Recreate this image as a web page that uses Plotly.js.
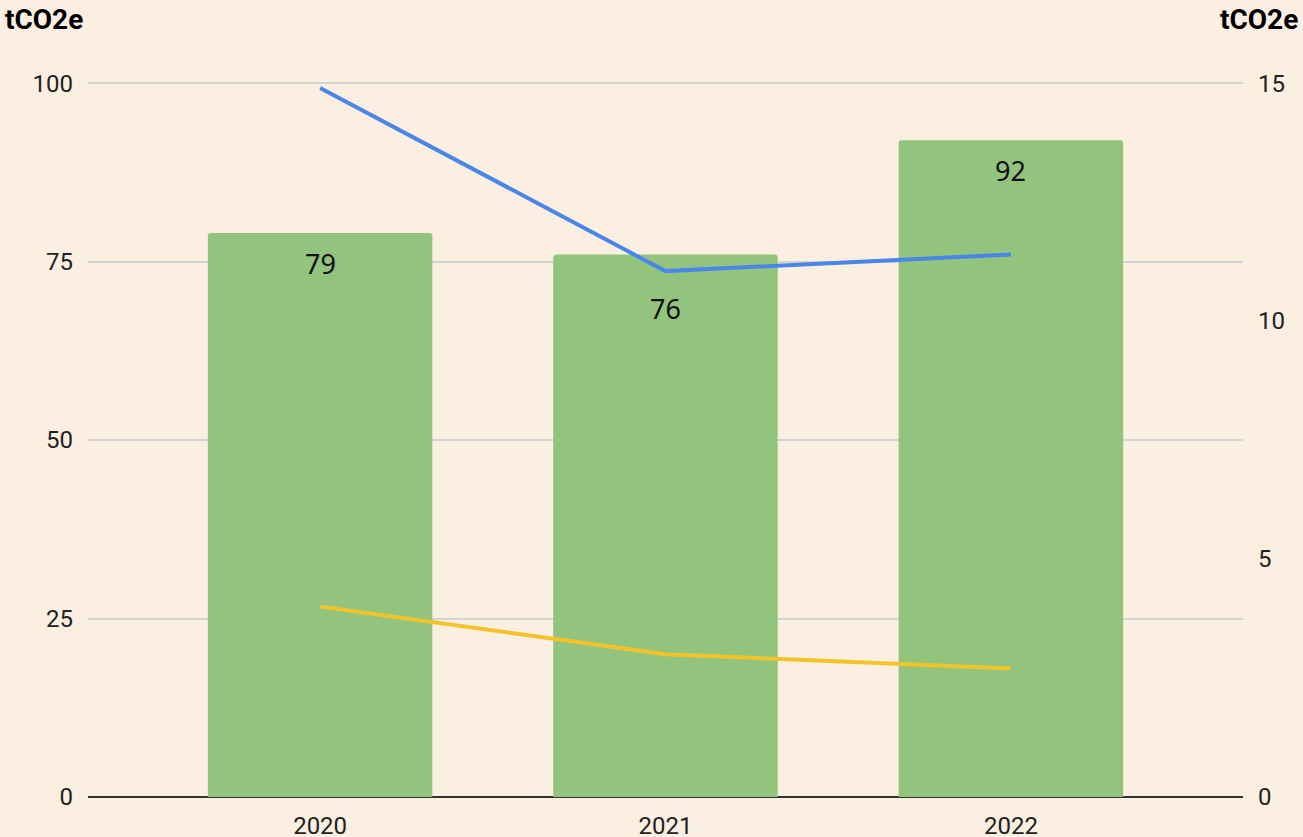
<!DOCTYPE html>
<html>
<head>
<meta charset="utf-8">
<script src="https://cdn.plot.ly/plotly-3.0.1.min.js"></script>
<style>html,body{margin:0;padding:0;background:#FBEFE1;}</style>
</head>
<body>
<div id="chart" style="width:1303px;height:837px;"></div>
<script>
const years = ["2020", "2021", "2022"];
const barValues = [79, 76, 92];
const blueValues = [14.9, 11.05, 11.4];
const yellowValues = [4.0, 3.0, 2.7];
const labelShift = [-30, -54, -30];
const unitLabel = "tCO2e";

const bg = "#FBEFE1";
const traces = [
  {type: "bar", x: years, y: barValues, marker: {color: "#93C47D", cornerradius: 3}, width: 0.65, hoverinfo: "y"},
  {type: "scatter", mode: "lines", x: years, y: blueValues, yaxis: "y2", line: {color: "#4A86E8", width: 4}},
  {type: "scatter", mode: "lines", x: years, y: yellowValues, yaxis: "y2", line: {color: "#F4C22B", width: 4}}
];
const annotations = years.map((yr, i) => ({
  x: i, y: barValues[i], xref: "x", yref: "y", text: String(barValues[i]),
  showarrow: false, yshift: labelShift[i], font: {family: "'Noto Sans', Roboto, sans-serif", size: 27, color: "#111"}
}));
annotations.push({xref: "paper", yref: "paper", x: -0.074, y: 1.0, yshift: 62, xanchor: "left", yanchor: "middle",
  text: "<b>" + unitLabel + "</b>", showarrow: false, font: {family: "Roboto, sans-serif", size: 28, color: "#000"}});
annotations.push({xref: "paper", yref: "paper", x: 1.049, y: 1.0, yshift: 62, xanchor: "right", yanchor: "middle",
  text: "<b>" + unitLabel + "</b>", showarrow: false, font: {family: "Roboto, sans-serif", size: 28, color: "#000"}});

const layout = {
  width: 1303, height: 837,
  paper_bgcolor: bg, plot_bgcolor: bg,
  margin: {l: 88, r: 60, t: 81, b: 40},
  showlegend: false,
  font: {family: "Roboto, sans-serif", size: 24, color: "#222"},
  xaxis: {type: "category", range: [-0.672, 2.672], showgrid: false, zeroline: false, showline: false,
    ticks: "", tickfont: {size: 24, color: "#222"}, ticklabelstandoff: 12},
  yaxis: {range: [0, 100.3], tickvals: [0, 25, 50, 75, 100], gridcolor: "#D3D3D3", gridwidth: 2,
    zeroline: true, zerolinecolor: "#333", zerolinewidth: 2, showline: false, ticks: "",
    tickfont: {size: 24, color: "#222"}, ticklabelstandoff: 14},
  yaxis2: {overlaying: "y", side: "right", range: [0, 15.045], tickvals: [0, 5, 10, 15], showgrid: false,
    zeroline: false, showline: false, ticks: "", tickfont: {size: 24, color: "#222"}, ticklabelstandoff: 14},
  annotations: annotations
};
Plotly.newPlot("chart", traces, layout, {displayModeBar: false, staticPlot: true});
</script>
</body>
</html>
